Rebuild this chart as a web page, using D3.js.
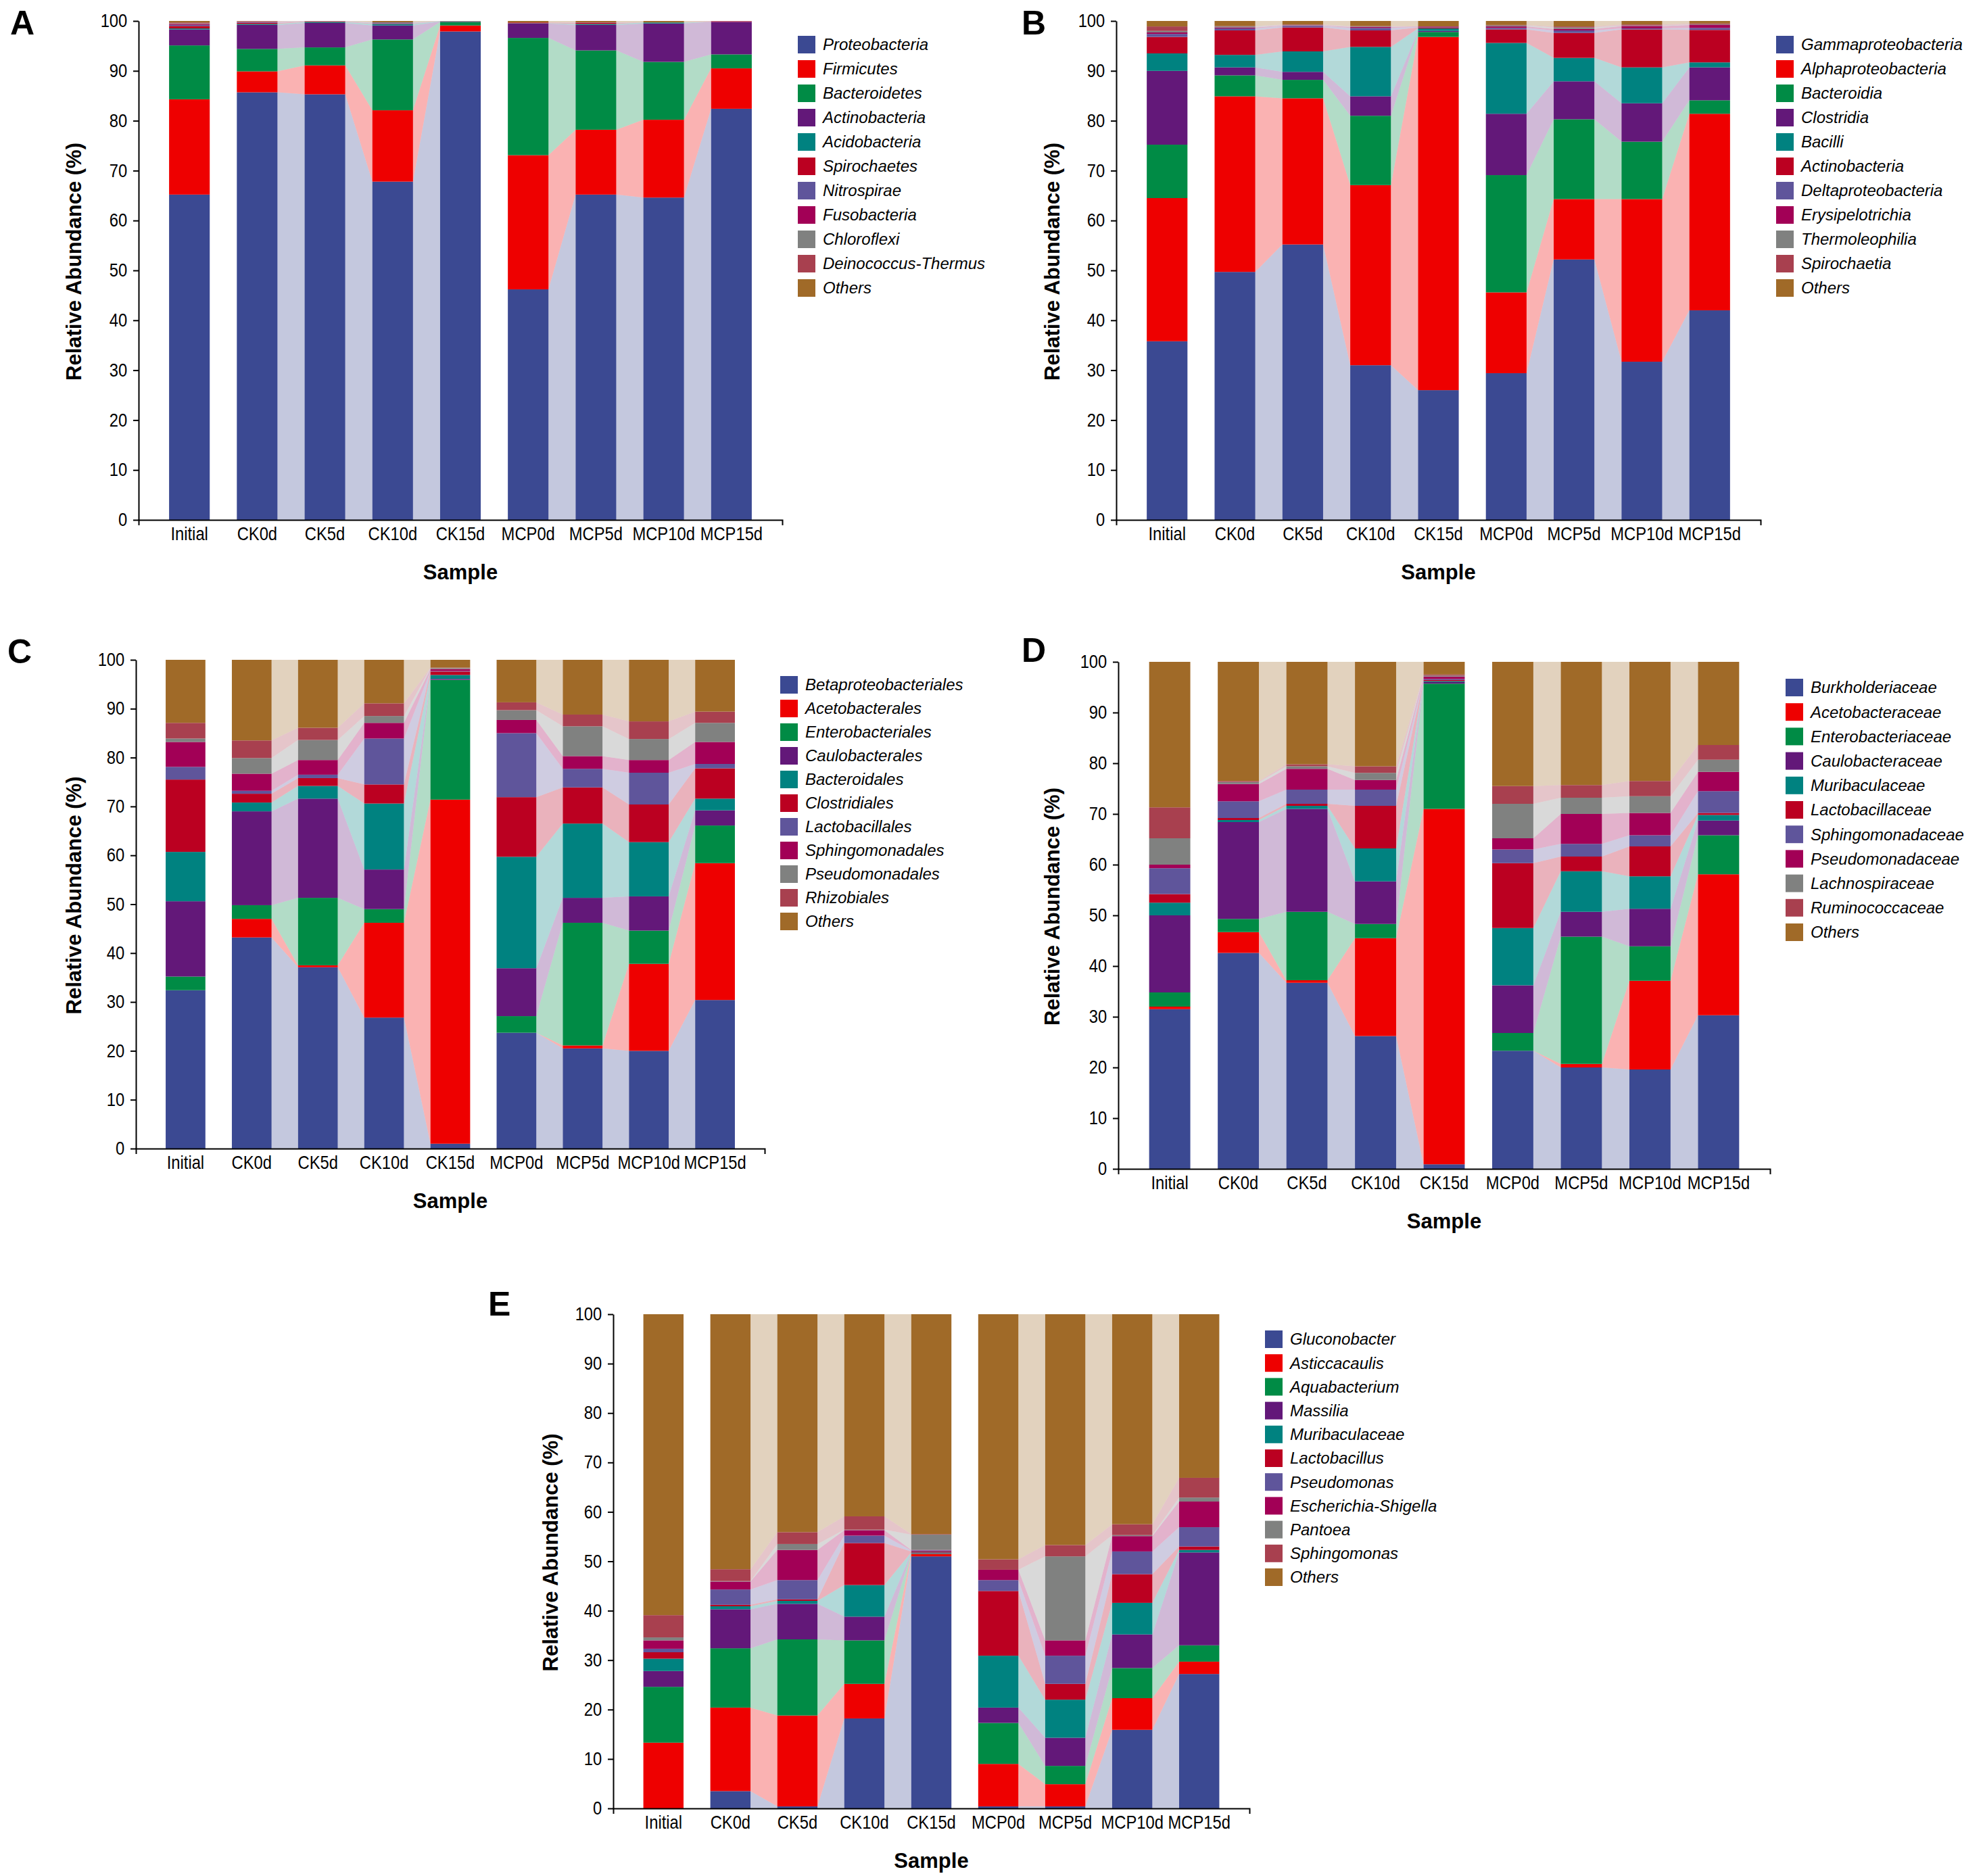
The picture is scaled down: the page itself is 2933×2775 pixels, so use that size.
<!DOCTYPE html>
<html>
<head>
<meta charset="utf-8">
<script src="https://cdn.jsdelivr.net/npm/d3@7"></script>
<style>
  body { margin: 0; background: #fff; }
  svg { display: block; }
</style>
</head>
<body>
<svg id="fig" width="2933" height="2775"></svg>
<script>
// ---- data ----
const samples = ['Initial','CK0d','CK5d','CK10d','CK15d','MCP0d','MCP5d','MCP10d','MCP15d']
const yTicks = [0,10,20,30,40,50,60,70,80,90,100]
// adjacent samples joined by a shaded band
const flowLinks = [['CK0d','CK5d'],['CK5d','CK10d'],['CK10d','CK15d'],
                   ['MCP0d','MCP5d'],['MCP5d','MCP10d'],['MCP10d','MCP15d']]

const phylumNames = ['Proteobacteria','Firmicutes','Bacteroidetes','Actinobacteria','Acidobacteria',
  'Spirochaetes','Nitrospirae','Fusobacteria','Chloroflexi','Deinococcus-Thermus','Others']
const phylumValues = [
  [65.2, 85.7, 85.3, 67.8, 97.9, 46.2, 65.2, 64.6, 82.4],
  [19.1, 4.2, 5.8, 14.3, 1.2, 26.9, 13.0, 15.6, 8.1],
  [10.8, 4.5, 3.6, 14.2, 0.7, 23.5, 15.9, 11.6, 2.8],
  [3.2, 4.8, 4.9, 2.8, 0.1, 2.9, 5.1, 7.7, 6.5],
  [0.2, 0.2, 0.2, 0.3, 0.05, 0.05, 0.2, 0.2, 0.0],
  [0.5, 0.2, 0.1, 0.1, 0.0, 0.15, 0.2, 0.0, 0.0],
  [0.2, 0.1, 0.05, 0.2, 0.0, 0.0, 0.05, 0.0, 0.0],
  [0.2, 0.1, 0.0, 0.0, 0.0, 0.0, 0.05, 0.0, 0.1],
  [0.1, 0.05, 0.0, 0.0, 0.0, 0.0, 0.0, 0.0, 0.0],
  [0.2, 0.1, 0.0, 0.0, 0.0, 0.0, 0.0, 0.0, 0.1],
  [0.3, 0.05, 0.05, 0.3, 0.05, 0.3, 0.3, 0.3, 0.0]
]

const classNames = ['Gammaproteobacteria','Alphaproteobacteria','Bacteroidia','Clostridia','Bacilli',
  'Actinobacteria','Deltaproteobacteria','Erysipelotrichia','Thermoleophilia','Spirochaetia','Others']
const classValues = [
  [35.8, 49.7, 55.2, 31.0, 26.0, 29.4, 52.2, 31.7, 42.0],
  [28.7, 35.2, 29.3, 36.1, 70.8, 16.2, 12.1, 32.6, 39.4],
  [10.7, 4.2, 3.7, 13.9, 1.0, 23.5, 16.0, 11.5, 2.7],
  [14.8, 1.6, 1.6, 3.9, 0.2, 12.3, 7.6, 7.7, 6.6],
  [3.5, 2.5, 4.1, 9.9, 0.5, 14.2, 4.7, 7.2, 1.0],
  [3.3, 4.9, 4.8, 3.3, 0.2, 2.7, 5.0, 7.6, 6.5],
  [0.6, 0.4, 0.3, 0.5, 0.1, 0.3, 0.5, 0.2, 0.4],
  [0.3, 0.2, 0.1, 0.2, 0.1, 0.3, 0.3, 0.5, 0.6],
  [0.3, 0.2, 0.1, 0.1, 0.0, 0.2, 0.3, 0.1, 0.1],
  [0.9, 0.1, 0.1, 0.1, 0.0, 0.1, 0.2, 0.2, 0.2],
  [1.1, 1.0, 0.7, 1.0, 1.1, 0.8, 1.1, 0.7, 0.5]
]

const orderNames = ['Betaproteobacteriales','Acetobacterales','Enterobacteriales','Caulobacterales',
  'Bacteroidales','Clostridiales','Lactobacillales','Sphingomonadales','Pseudomonadales','Rhizobiales','Others']
const orderValues = [
  [32.4, 43.2, 37.1, 26.8, 1.0, 23.7, 20.5, 20.0, 30.4],
  [0.0, 3.8, 0.4, 19.4, 70.4, 0.0, 0.6, 17.8, 28.0],
  [2.8, 2.8, 13.8, 2.8, 24.5, 3.4, 25.1, 6.8, 7.7],
  [15.4, 19.2, 20.3, 8.1, 0.2, 9.8, 5.1, 7.0, 3.1],
  [10.1, 1.8, 2.6, 13.5, 0.8, 22.8, 15.2, 11.1, 2.4],
  [14.8, 1.8, 1.6, 3.9, 0.7, 12.2, 7.4, 7.7, 6.2],
  [2.6, 0.6, 0.7, 9.4, 0.1, 13.1, 3.8, 6.5, 0.9],
  [5.1, 3.5, 3.0, 3.2, 0.4, 2.7, 2.6, 2.6, 4.5],
  [0.7, 3.2, 4.1, 1.4, 0.2, 2.0, 6.1, 4.3, 3.9],
  [3.2, 3.6, 2.5, 2.6, 0.1, 1.6, 2.4, 3.6, 2.3],
  [12.9, 16.5, 13.9, 8.9, 1.6, 8.7, 11.2, 12.6, 10.6]
]

const familyNames = ['Burkholderiaceae','Acetobacteraceae','Enterobacteriaceae','Caulobacteraceae',
  'Muribaculaceae','Lactobacillaceae','Sphingomonadaceae','Pseudomonadaceae','Lachnospiraceae','Ruminococcaceae','Others']
const familyValues = [
  [31.5, 42.6, 36.7, 26.2, 0.9, 23.3, 20.0, 19.6, 30.3],
  [0.5, 4.1, 0.5, 19.3, 70.1, 0.0, 0.7, 17.5, 27.8],
  [2.8, 2.6, 13.5, 2.8, 24.7, 3.5, 25.1, 6.8, 7.7],
  [15.2, 19.1, 20.3, 8.4, 0.3, 9.4, 4.9, 7.4, 2.9],
  [2.5, 0.4, 0.6, 6.5, 0.2, 11.3, 8.0, 6.4, 1.1],
  [1.7, 0.4, 0.4, 8.4, 0.2, 12.8, 2.9, 5.9, 0.4],
  [5.1, 3.3, 2.8, 3.2, 0.2, 2.7, 2.5, 2.2, 4.3],
  [0.7, 3.4, 4.1, 1.9, 0.5, 2.2, 5.9, 4.4, 3.8],
  [5.2, 0.4, 0.5, 1.4, 0.2, 6.8, 3.2, 3.3, 2.4],
  [6.1, 0.2, 0.4, 1.3, 0.2, 3.5, 2.5, 3.0, 2.9],
  [28.7, 23.5, 20.2, 20.6, 2.5, 24.5, 24.3, 23.5, 16.4]
]

const genusNames = ['Gluconobacter','Asticcacaulis','Aquabacterium','Massilia','Muribaculaceae',
  'Lactobacillus','Pseudomonas','Escherichia-Shigella','Pantoea','Sphingomonas','Others']
const genusValues = [
  [0.0, 3.5, 0.4, 18.2, 51.0, 0.4, 0.4, 15.9, 27.2],
  [13.3, 16.9, 18.4, 7.0, 0.5, 8.6, 4.5, 6.4, 2.5],
  [11.3, 12.0, 15.4, 8.8, 0.1, 8.3, 3.7, 6.1, 3.3],
  [3.2, 7.9, 7.2, 4.8, 0.1, 3.1, 5.7, 6.8, 18.8],
  [2.5, 0.6, 0.6, 6.4, 0.1, 10.5, 7.7, 6.4, 0.5],
  [1.3, 0.3, 0.3, 8.5, 0.2, 13.1, 3.2, 5.8, 0.7],
  [0.7, 3.1, 3.9, 1.5, 0.2, 2.2, 5.7, 4.6, 3.9],
  [1.7, 1.6, 6.1, 1.1, 0.1, 2.1, 3.1, 3.1, 5.2],
  [0.6, 0.1, 1.2, 0.1, 3.1, 0.0, 17.0, 0.2, 0.8],
  [4.5, 2.4, 2.4, 2.7, 0.1, 2.1, 2.3, 2.2, 4.0],
  [60.9, 51.6, 44.1, 40.9, 44.5, 49.6, 46.7, 42.5, 33.1]
]

const palette = ['#3B4992','#EE0000','#008B45','#631879','#008280','#BB0021',
  '#5F559B','#A20056','#808180','#A8404F','#A06A28']

// ---- layout ----
const panels = [
  { letter:'A', names:phylumNames, values:phylumValues, x0:205, x1:1157, top:31, bottom:769,
    lx:15, ly:51, titleX:109, legX:1180, legY:53, legStep:36 },
  { letter:'B', names:classNames, values:classValues, x0:1651, x1:2604, top:31, bottom:769,
    lx:1511, ly:51, titleX:1556, legX:2627, legY:53, legStep:36 },
  { letter:'C', names:orderNames, values:orderValues, x0:201, x1:1131, top:976, bottom:1699,
    lx:11, ly:981, titleX:109, legX:1154, legY:1000, legStep:35 },
  { letter:'D', names:familyNames, values:familyValues, x0:1654, x1:2618, top:979, bottom:1729,
    lx:1511, ly:979, titleX:1556, legX:2641, legY:1004, legStep:36.2 },
  { letter:'E', names:genusNames, values:genusValues, x0:907, x1:1848, top:1944, bottom:2675,
    lx:722, ly:1946, titleX:814, legX:1871, legY:1968, legStep:35.2 }
]

const svg = d3.select('#fig')
const font = "'Liberation Sans', Arial, sans-serif"

svg.append('rect').attr('width', 2933).attr('height', 2775).attr('fill', '#fff')

function drawPanel(p) {
  const g = svg.append('g')

  const x = d3.scaleBand()
    .domain(samples)
    .range([p.x0, p.x1])
    .paddingInner(0.4)
    .paddingOuter(0.45)
  const y = d3.scaleLinear()
    .domain([0, 100])
    .range([p.bottom, p.top])
  const color = d3.scaleOrdinal().domain(p.names).range(palette)
  const bw = x.bandwidth()

  const rows = samples.map((s, i) => {
    const r = { sample: s }
    p.names.forEach((n, k) => { r[n] = p.values[k][i] })
    return r
  })
  const series = d3.stack().keys(p.names)(rows)

  // shaded bands between neighbouring bars
  const area = d3.area()
    .x(d => d.x)
    .y0(d => y(d.lo))
    .y1(d => y(d.hi))

  const flowG = g.append('g')
  series.forEach(layer => {
    flowLinks.forEach(([a, b]) => {
      const ia = samples.indexOf(a)
      const ib = samples.indexOf(b)
      const pts = [
        { x: x(a) + bw, lo: layer[ia][0], hi: layer[ia][1] },
        { x: x(b), lo: layer[ib][0], hi: layer[ib][1] }
      ]
      flowG.append('path')
        .attr('d', area(pts))
        .attr('fill', color(layer.key))
        .attr('fill-opacity', 0.3)
    })
  })

  // stacked bars
  g.append('g')
    .selectAll('g')
    .data(series)
    .join('g')
    .attr('fill', d => color(d.key))
    .selectAll('rect')
    .data(d => d)
    .join('rect')
    .attr('x', d => x(d.data.sample))
    .attr('y', d => y(d[1]))
    .attr('width', bw)
    .attr('height', d => y(d[0]) - y(d[1]))

  // axes
  const yAxis = g.append('g')
    .attr('transform', `translate(${p.x0},0)`)
    .call(d3.axisLeft(y).tickValues(yTicks).tickSize(8).tickSizeOuter(0).tickPadding(11))
  const xAxis = g.append('g')
    .attr('transform', `translate(0,${p.bottom})`)
    .call(d3.axisBottom(x).tickSizeInner(0).tickSizeOuter(8).tickPadding(11))

  ;[yAxis, xAxis].forEach(ax => {
    ax.selectAll('text')
      .attr('font-size', 27)
      .attr('font-family', font)
      .attr('fill', '#000')
      .attr('transform', 'scale(0.88,1)')
    ax.selectAll('path, line').attr('stroke', '#000').attr('stroke-width', 2)
  })

  // titles
  g.append('text')
    .attr('transform', `translate(${p.titleX},${(p.top + p.bottom) / 2 - 13}) rotate(-90)`)
    .attr('text-anchor', 'middle')
    .attr('dy', '0.35em')
    .attr('font-family', font)
    .attr('font-weight', 'bold')
    .attr('font-size', 31)
    .text('Relative Abundance (%)')

  g.append('text')
    .attr('x', (p.x0 + p.x1) / 2)
    .attr('y', p.bottom + 88)
    .attr('text-anchor', 'middle')
    .attr('font-family', font)
    .attr('font-weight', 'bold')
    .attr('font-size', 31)
    .text('Sample')

  g.append('text')
    .attr('x', p.lx)
    .attr('y', p.ly)
    .attr('font-family', font)
    .attr('font-weight', 'bold')
    .attr('font-size', 50)
    .text(p.letter)

  // legend
  const leg = g.append('g')
    .selectAll('g')
    .data(p.names)
    .join('g')
    .attr('transform', (d, i) => `translate(${p.legX},${p.legY + i * p.legStep})`)
  leg.append('rect')
    .attr('width', 26)
    .attr('height', 26)
    .attr('fill', d => color(d))
  leg.append('text')
    .attr('x', 37)
    .attr('y', 13)
    .attr('dy', '0.35em')
    .attr('font-family', font)
    .attr('font-style', 'italic')
    .attr('font-size', 24)
    .text(d => d)
}

panels.forEach(drawPanel)
</script>
</body>
</html>
